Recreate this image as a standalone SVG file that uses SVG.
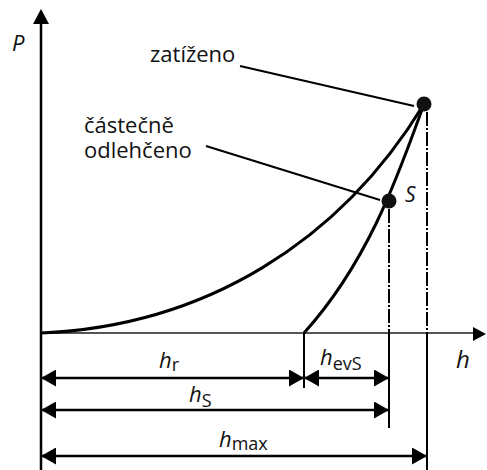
<svg xmlns="http://www.w3.org/2000/svg" width="487" height="470" viewBox="0 0 487 470">
<defs>
<style>
.ax{stroke:#000;stroke-width:2.5;fill:none}
.hax{stroke:#555;stroke-width:2;fill:none}
.crv{stroke:#000;stroke-width:3;fill:none}
.lead{stroke:#000;stroke-width:2;fill:none}
.dash{stroke:#000;stroke-width:2;fill:none;stroke-dasharray:14 2 2 2}
.vl{stroke:#000;stroke-width:2;fill:none}
.dim{stroke:#000;stroke-width:2.6;fill:none}
.lbl{font-family:"Open Sans","Liberation Sans",sans-serif;font-size:22px;fill:#111}
.it{font-family:"Open Sans","Liberation Sans",sans-serif;font-style:italic;fill:#111}
.sub{font-family:"Open Sans","Liberation Sans",sans-serif;fill:#111}
</style>
<marker id="ae" viewBox="0 0 15 17" refX="15" refY="8.5" markerWidth="15" markerHeight="17" markerUnits="userSpaceOnUse" orient="auto">
<path d="M0,0 L15,8.5 L0,17 z" fill="#000"/>
</marker>
<marker id="as" viewBox="0 0 15 17" refX="0" refY="8.5" markerWidth="15" markerHeight="17" markerUnits="userSpaceOnUse" orient="auto">
<path d="M15,0 L0,8.5 L15,17 z" fill="#000"/>
</marker>
</defs>
<g id="axes">
<line class="ax" x1="41" y1="470" x2="41" y2="22"/>
<path d="M41,9 L49,24 L33,24 z" fill="#000"/>
<line class="hax" x1="41" y1="333" x2="474" y2="333"/>
<path d="M486,334 L473,327 L473,341 z" fill="#000"/>
<text class="it" x="12" y="51" font-size="22">P</text>
<text class="it" x="456" y="368" font-size="24">h</text>
</g>
<g id="curves">
<path class="crv" d="M41,333 C205,326 340,242 424,104"/>
<path class="crv" d="M424,104 C400,170 370,260 304,333"/>
</g>
<g id="node-zatizeno">
<circle cx="424" cy="104" r="7.5" fill="#111"/>
<text class="lbl" x="150" y="62">zatíženo</text>
</g>
<g id="node-S">
<circle cx="389" cy="201" r="7.5" fill="#111"/>
<text class="it" x="405" y="202" font-size="21">S</text>
<text class="lbl" x="84" y="133">částečně</text>
<text class="lbl" x="84" y="158">odlehčeno</text>
</g>
<g id="connectors">
<line class="lead" x1="240" y1="66" x2="414" y2="106"/>
<line class="lead" x1="206" y1="146" x2="380" y2="200"/>
<line class="dash" x1="427" y1="112" x2="427" y2="333"/>
<line class="vl" x1="427" y1="333" x2="427" y2="470"/>
<line class="dash" x1="389" y1="209" x2="389" y2="333"/>
<line class="vl" x1="389" y1="333" x2="389" y2="428"/>
<line class="vl" x1="304" y1="333" x2="304" y2="388"/>
<line class="dim" x1="41" y1="378" x2="304" y2="378" marker-start="url(#as)" marker-end="url(#ae)"/>
<line class="dim" x1="304" y1="378" x2="389" y2="378" marker-start="url(#as)" marker-end="url(#ae)"/>
<line class="dim" x1="41" y1="410" x2="389" y2="410" marker-start="url(#as)" marker-end="url(#ae)"/>
<line class="dim" x1="41" y1="456" x2="427" y2="456" stroke-width="2" marker-start="url(#as)" marker-end="url(#ae)"/>
</g>
<g id="labels">
<text x="159" y="368"><tspan class="it" font-size="22">h</tspan><tspan class="sub" font-size="18" dy="3">r</tspan></text>
<text x="320" y="365"><tspan class="it" font-size="22">h</tspan><tspan class="sub" font-size="18" dy="5">evS</tspan></text>
<text x="189" y="402"><tspan class="it" font-size="22">h</tspan><tspan class="sub" font-size="18" dy="5">S</tspan></text>
<text x="219" y="447"><tspan class="it" font-size="22">h</tspan><tspan class="sub" font-size="18" dy="3">max</tspan></text>
</g>
</svg>
